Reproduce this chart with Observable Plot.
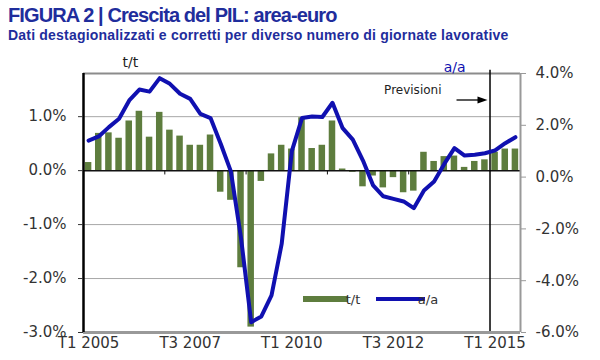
<!DOCTYPE html>
<html><head><meta charset="utf-8">
<script src="https://cdn.jsdelivr.net/npm/d3@7"></script>
<script src="https://cdn.jsdelivr.net/npm/@observablehq/plot@0.6"></script>
<style>
body{margin:0;background:#fff;}
#wrap{position:relative;width:600px;height:360px;overflow:hidden;background:#fff;}
#title{position:absolute;left:8px;top:5px;font:bold 20px "Liberation Sans",Arial,sans-serif;letter-spacing:-0.9px;color:#1f2d9c;line-height:20px;white-space:nowrap;}
#subtitle{position:absolute;left:8px;top:27px;font:bold 14px "Liberation Sans",Arial,sans-serif;letter-spacing:0.2px;color:#1f2d9c;line-height:16px;white-space:nowrap;}
#chart{position:absolute;left:0;top:45px;}
</style></head><body>
<div id="wrap">
<div id="title">FIGURA 2 | Crescita del PIL: area-euro</div>
<div id="subtitle">Dati destagionalizzati e corretti per diverso numero di giornate lavorative</div>
<div id="chart"></div>
</div>
<script>
const quarters = [
 "T1 2005","T2 2005","T3 2005","T4 2005","T1 2006","T2 2006","T3 2006","T4 2006",
 "T1 2007","T2 2007","T3 2007","T4 2007","T1 2008","T2 2008","T3 2008","T4 2008",
 "T1 2009","T2 2009","T3 2009","T4 2009","T1 2010","T2 2010","T3 2010","T4 2010",
 "T1 2011","T2 2011","T3 2011","T4 2011","T1 2012","T2 2012","T3 2012","T4 2012",
 "T1 2013","T2 2013","T3 2013","T4 2013","T1 2014","T2 2014","T3 2014","T4 2014",
 "T1 2015","T2 2015","T3 2015"];
// t/t, % (left axis)
const tt = [0.15,0.69,0.70,0.60,0.92,1.10,0.62,1.08,0.75,0.64,0.47,0.47,0.66,-0.40,-0.55,-1.80,
 -2.90,-0.20,0.31,0.47,0.40,0.98,0.41,0.47,0.92,0.03,-0.03,-0.30,-0.10,-0.32,-0.13,-0.41,
 -0.38,0.34,0.17,0.26,0.27,0.06,0.17,0.20,0.34,0.40,0.40];
// a/a, % (right axis)
const aa = [1.41,1.57,1.93,2.25,2.96,3.38,3.30,3.82,3.60,3.22,3.02,2.44,2.28,1.29,0.22,-2.35,
 -5.60,-5.38,-4.57,-2.58,1.00,2.28,2.34,2.32,2.87,1.89,1.45,0.64,-0.32,-0.74,-0.84,-0.94,
 -1.20,-0.52,-0.17,0.51,1.12,0.83,0.86,0.92,1.03,1.31,1.54];
const xTickLabels = ["T1 2005","T3 2007","T1 2010","T3 2012","T1 2015"];
const leftTicks = [-3,-2,-1,0,1];
const leftGrid = [-2,-1,1];
const rightTicks = [-6,-4,-2,0,2,4];
const zeroTickQuarters = ["T1 2007","T1 2009","T1 2011","T1 2013"];
const forecastStart = "T1 2015";
const leftDomain = [-3,1.8];
const rightDomain = [-6,4];

const k = (leftDomain[1]-leftDomain[0])/(rightDomain[1]-rightDomain[0]);
const toLeft = v => leftDomain[0] + (v - rightDomain[0]) * k;
const fromLeft = v => (v - leftDomain[0]) / k + rightDomain[0];

const rows = quarters.map((q,i) => ({q, i, tt: tt[i], aa: aa[i]}));
const qi = q => quarters.indexOf(q);
const fIdx = qi(forecastStart);

const green = "#5e7d3e", blue = "#1010b0", txt = "#333";
const FONT = "DejaVu Sans, Verdana, sans-serif";

function overlay(index, scales, values, dims) {
  const g = d3.create("svg:g").attr("font-family", FONT);
  const fb = dims.height - dims.marginBottom;
  const ft = dims.marginTop;
  const L = dims.marginLeft;
  const ly = fb - 33;
  // legend
  g.append("rect").attr("x", L+220).attr("y", ly-3).attr("width", 45).attr("height", 6).attr("fill", green);
  g.append("text").attr("x", L+270).attr("y", ly).attr("dy","0.35em").attr("font-size",13).attr("fill",txt).text("t/t");
  g.append("line").attr("x1", L+293).attr("x2", L+342).attr("y1", ly).attr("y2", ly).attr("stroke", blue).attr("stroke-width",4);
  g.append("text").attr("x", L+345).attr("y", ly).attr("dy","0.35em").attr("font-size",13).attr("fill",txt).text("a/a");
  // forecast arrow
  const xf = scales.x(fIdx);
  const ay = ft + 27;
  g.append("line").attr("x1", xf-33).attr("x2", xf-10).attr("y1", ay).attr("y2", ay).attr("stroke","#000").attr("stroke-width",1.3);
  g.append("path").attr("d", `M${xf-2},${ay} L${xf-12},${ay-3.5} L${xf-12},${ay+3.5} Z`).attr("fill","#000");
  return g.node();
}

const chart = Plot.plot({
  width: 600, height: 315,
  marginTop: 28, marginBottom: 28, marginLeft: 83, marginRight: 80,
  style: {fontFamily: FONT, fontSize: "15px", color: txt, background: "#fff"},
  x: {type: "linear", domain: [0, quarters.length]},
  y: {domain: leftDomain},
  marks: [
    Plot.ruleY(leftGrid, {stroke: "#a8a8a8", strokeWidth: 1}),
    Plot.rect(rows, {x1: d => d.i + 0.18, x2: d => d.i + 0.82, y1: 0, y2: "tt", fill: green}),
    Plot.ruleY([0], {stroke: "#111", strokeWidth: 1.5}),
    Plot.ruleX(zeroTickQuarters.map(qi), {y1: 0, y2: -0.08, stroke: "#111", strokeWidth: 1}),
    Plot.ruleY([leftDomain[1]], {stroke: "#8c8c8c", strokeWidth: 2}),
    Plot.ruleX([quarters.length], {stroke: "#999", strokeWidth: 2}),
    Plot.ruleX([fIdx], {y1: leftDomain[0], y2: leftDomain[1] + 0.06, stroke: "#000", strokeWidth: 1.5}),
    Plot.line(rows, {x: d => d.i + 0.5, y: d => toLeft(d.aa), stroke: blue, strokeWidth: 4, strokeLinejoin: "round"}),
    Plot.ruleY([leftDomain[0]], {stroke: "#999", strokeWidth: 3}),
    Plot.ruleX([0], {stroke: "#000", strokeWidth: 2.5}),
    Plot.axisY(leftTicks, {anchor: "left", label: null, tickSize: 5, tickPadding: 12, tickFormat: d => d.toFixed(1) + "%", color: txt, fontSize: 15}),
    Plot.axisY(rightTicks.map(toLeft), {anchor: "right", label: null, tickSize: 5, tickPadding: 10, stroke: "#999", fill: txt,
      tickFormat: d => Math.round(fromLeft(d)).toFixed(1) + "%", fontSize: 15}),
    Plot.axisX(xTickLabels.map(q => qi(q) + 0.5), {anchor: "bottom", label: null, tickSize: 0, tickPadding: 5,
      tickFormat: d => quarters[Math.floor(d)], color: txt, fontSize: 15}),
    Plot.text(["t/t"], {frameAnchor: "top-left", dx: 39, dy: -16, fontSize: 14, fill: "#222"}),
    Plot.text(["a/a"], {frameAnchor: "top-right", dx: -55, dy: -11, fontSize: 14, fill: blue}),
    Plot.text(["Previsioni"], {frameAnchor: "top-right", dx: -79, dy: 12, fontSize: 12, fill: "#222"}),
    overlay
  ]
});
document.getElementById("chart").appendChild(chart);
</script>
</body></html>
